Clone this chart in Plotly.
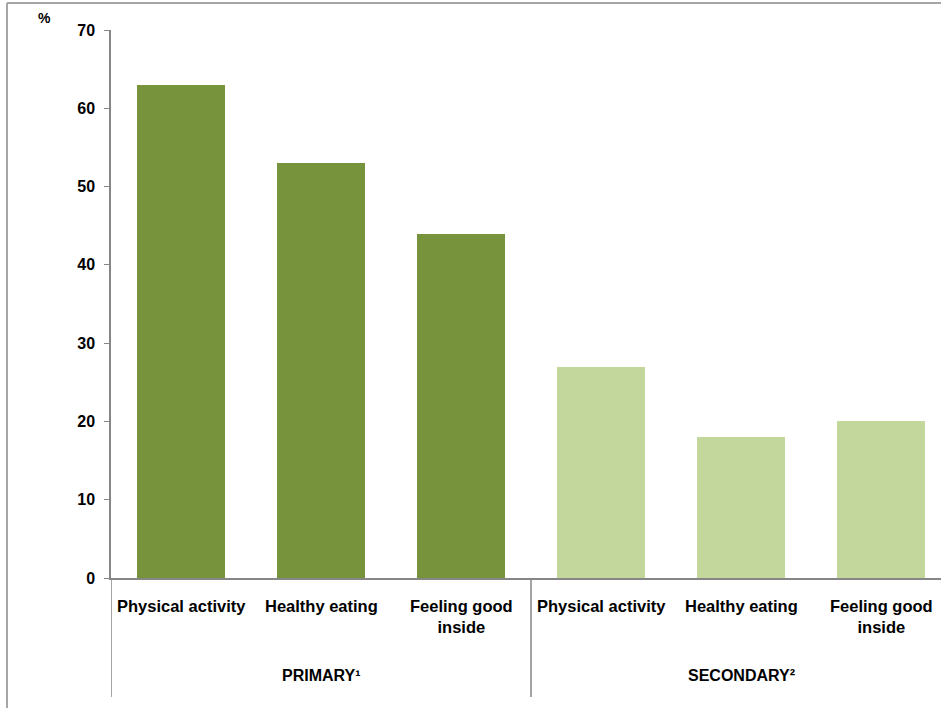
import plotly.graph_objects as go

# Data
groups = ["PRIMARY\u00b9", "SECONDARY\u00b2"]
categories = ["Physical activity", "Healthy eating", "Feeling good<br>inside"]
primary_values = [63, 53, 44]
secondary_values = [27, 18, 20]
y_ticks = [0, 10, 20, 30, 40, 50, 60, 70]

DARK_GREEN = "#77933C"
LIGHT_GREEN = "#C3D69B"
AXIS_GREY = "#868686"
FONT = "Liberation Sans, Arial, sans-serif"

W, H = 941, 708
ML, MR, MT, MB = 111, 0, 30, 130
plot_w = W - ML - MR
plot_h = H - MT - MB

n_cat = len(categories)
x_primary = list(range(n_cat))
x_secondary = [n_cat + i for i in range(n_cat)]

fig = go.Figure()
fig.add_trace(go.Bar(x=x_primary, y=primary_values, marker_color=DARK_GREEN,
                     marker_line_width=0, width=0.63, showlegend=False,
                     hoverinfo="y"))
fig.add_trace(go.Bar(x=x_secondary, y=secondary_values, marker_color=LIGHT_GREEN,
                     marker_line_width=0, width=0.63, showlegend=False,
                     hoverinfo="y"))

def px_x(px):
    return (px - ML) / plot_w

def px_y(px):
    return (H - MB - px) / plot_h

bold = dict(family=FONT, color="#000000", weight="bold")

annotations = []
# category labels under each bar
for xs in (x_primary, x_secondary):
    for xi, label in zip(xs, categories):
        annotations.append(dict(x=xi, xref="x", y=0, yref="paper", yanchor="top",
                                yshift=-17, text=label, showarrow=False,
                                font=dict(size=16.5, **bold), align="center"))
# group labels
for gi, g in enumerate(groups):
    annotations.append(dict(x=gi * n_cat + (n_cat - 1) / 2, xref="x",
                            y=px_y(675), yref="paper", yanchor="middle",
                            text=g, showarrow=False, font=dict(size=16, **bold)))
# unit label
annotations.append(dict(x=px_x(44), xref="paper", xanchor="center",
                        y=px_y(18), yref="paper", yanchor="middle",
                        text="%", showarrow=False, font=dict(size=14, **bold)))

shapes = []
# group separators below the axis
for xb in (-0.5, n_cat - 0.5):
    shapes.append(dict(type="line", xref="x", yref="paper", x0=xb, x1=xb,
                       y0=0, y1=px_y(697), line=dict(color=AXIS_GREY, width=1.5)))
# outer frame (left and top edges)
shapes.append(dict(type="line", xref="paper", yref="paper",
                   x0=px_x(7), x1=px_x(7), y0=px_y(3), y1=px_y(H + 5),
                   line=dict(color="#A6A6A6", width=2)))
shapes.append(dict(type="line", xref="paper", yref="paper",
                   x0=px_x(7), x1=px_x(W + 5), y0=px_y(3), y1=px_y(3),
                   line=dict(color="#A6A6A6", width=2)))

fig.update_layout(
    width=W, height=H,
    margin=dict(l=ML, r=MR, t=MT, b=MB, pad=0),
    paper_bgcolor="white", plot_bgcolor="white",
    bargap=0,
    annotations=annotations,
    shapes=shapes,
    font=dict(family=FONT, color="#000000"),
)
fig.update_xaxes(range=[-0.5, -0.5 + plot_w / 140], showgrid=False, zeroline=False,
                 showline=True, linecolor=AXIS_GREY, linewidth=1.5,
                 showticklabels=False, ticks="", fixedrange=True)
fig.update_yaxes(range=[0, 70], tickvals=y_ticks, showgrid=False, zeroline=False,
                 showline=True, linecolor=AXIS_GREY, linewidth=1.5,
                 ticks="outside", ticklen=5, tickcolor=AXIS_GREY, tickwidth=1,
                 tickfont=dict(size=16, **bold), ticklabelstandoff=6,
                 fixedrange=True)

fig.write_html("out.html")
